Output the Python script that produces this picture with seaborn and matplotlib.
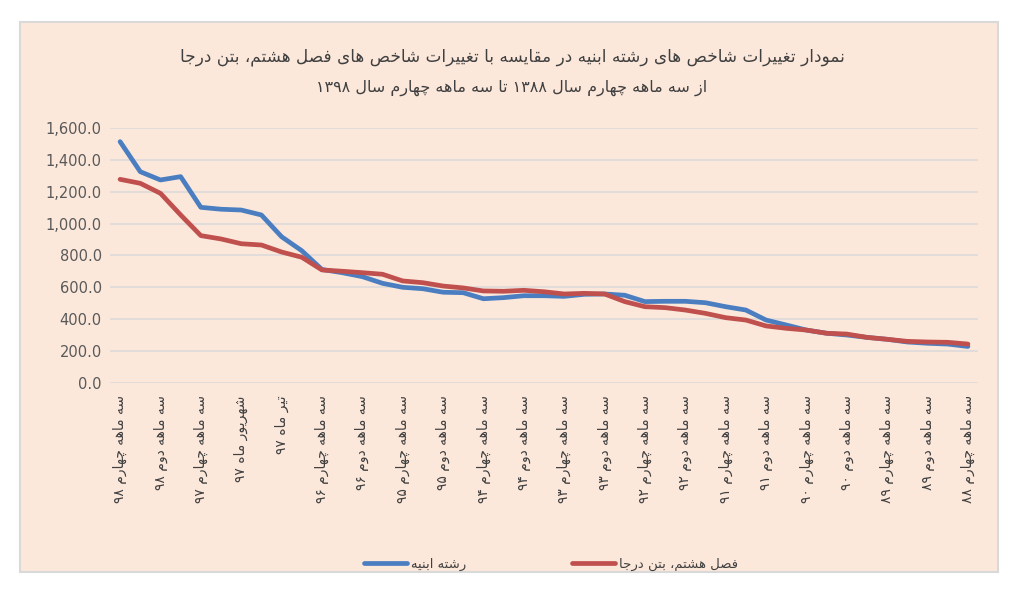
import re
import numpy as np
import pandas as pd
import matplotlib
matplotlib.use("Agg")
import matplotlib.pyplot as plt
from matplotlib.patches import Rectangle
from matplotlib.ticker import FuncFormatter
import seaborn as sns

# ---------------- data ----------------
title_line1 = "نمودار تغییرات شاخص های رشته ابنیه در مقایسه با تغییرات شاخص های فصل هشتم، بتن درجا"
title_line2 = "از سه ماهه چهارم سال ۱۳۸۸ تا سه ماهه چهارم سال ۱۳۹۸"

series_names = ["رشته ابنیه", "فصل هشتم، بتن درجا"]

categories = [
    "سه ماهه چهارم ۹۸", "سه ماهه سوم ۹۸", "سه ماهه دوم ۹۸", "سه ماهه اول ۹۸",
    "سه ماهه چهارم ۹۷", "سه ماهه سوم ۹۷", "شهریور ماه ۹۷", "مرداد ماه ۹۷",
    "تیر ماه ۹۷", "سه ماهه اول ۹۷",
    "سه ماهه چهارم ۹۶", "سه ماهه سوم ۹۶", "سه ماهه دوم ۹۶", "سه ماهه اول ۹۶",
    "سه ماهه چهارم ۹۵", "سه ماهه سوم ۹۵", "سه ماهه دوم ۹۵", "سه ماهه اول ۹۵",
    "سه ماهه چهارم ۹۴", "سه ماهه سوم ۹۴", "سه ماهه دوم ۹۴", "سه ماهه اول ۹۴",
    "سه ماهه چهارم ۹۳", "سه ماهه سوم ۹۳", "سه ماهه دوم ۹۳", "سه ماهه اول ۹۳",
    "سه ماهه چهارم ۹۲", "سه ماهه سوم ۹۲", "سه ماهه دوم ۹۲", "سه ماهه اول ۹۲",
    "سه ماهه چهارم ۹۱", "سه ماهه سوم ۹۱", "سه ماهه دوم ۹۱", "سه ماهه اول ۹۱",
    "سه ماهه چهارم ۹۰", "سه ماهه سوم ۹۰", "سه ماهه دوم ۹۰", "سه ماهه اول ۹۰",
    "سه ماهه چهارم ۸۹", "سه ماهه سوم ۸۹", "سه ماهه دوم ۸۹", "سه ماهه اول ۸۹",
    "سه ماهه چهارم ۸۸",
]

abnieh = [1516, 1327, 1275, 1296, 1103, 1091, 1086, 1055, 918, 830,
          712, 692, 667, 625, 600, 591, 569, 566, 528, 535,
          547, 547, 543, 556, 558, 550, 510, 512, 512, 503,
          478, 457, 394, 363, 331, 311, 300, 285, 273, 256,
          248, 243, 228]

beton = [1279, 1254, 1191, 1055, 925, 904, 874, 866, 822, 789,
         709, 701, 692, 682, 640, 629, 608, 596, 577, 575,
         581, 572, 558, 562, 558, 510, 478, 472, 457, 436,
         409, 394, 357, 342, 331, 311, 306, 285, 273, 260,
         256, 254, 243]

y_ticks = [0, 200, 400, 600, 800, 1000, 1200, 1400, 1600]

# ---------------- minimal Persian shaping (visual order) ----------------
_F = {
    '\u0627': ('\uFE8D', '\uFE8E', None, None),
    '\u0622': ('\uFE81', '\uFE82', None, None),
    '\u0628': ('\uFE8F', '\uFE90', '\uFE91', '\uFE92'),
    '\u067E': ('\uFB56', '\uFB57', '\uFB58', '\uFB59'),
    '\u062A': ('\uFE95', '\uFE96', '\uFE97', '\uFE98'),
    '\u062B': ('\uFE99', '\uFE9A', '\uFE9B', '\uFE9C'),
    '\u062C': ('\uFE9D', '\uFE9E', '\uFE9F', '\uFEA0'),
    '\u0686': ('\uFB7A', '\uFB7B', '\uFB7C', '\uFB7D'),
    '\u062D': ('\uFEA1', '\uFEA2', '\uFEA3', '\uFEA4'),
    '\u062E': ('\uFEA5', '\uFEA6', '\uFEA7', '\uFEA8'),
    '\u062F': ('\uFEA9', '\uFEAA', None, None),
    '\u0630': ('\uFEAB', '\uFEAC', None, None),
    '\u0631': ('\uFEAD', '\uFEAE', None, None),
    '\u0632': ('\uFEAF', '\uFEB0', None, None),
    '\u0698': ('\uFB8A', '\uFB8B', None, None),
    '\u0633': ('\uFEB1', '\uFEB2', '\uFEB3', '\uFEB4'),
    '\u0634': ('\uFEB5', '\uFEB6', '\uFEB7', '\uFEB8'),
    '\u0635': ('\uFEB9', '\uFEBA', '\uFEBB', '\uFEBC'),
    '\u0636': ('\uFEBD', '\uFEBE', '\uFEBF', '\uFEC0'),
    '\u0637': ('\uFEC1', '\uFEC2', '\uFEC3', '\uFEC4'),
    '\u0638': ('\uFEC5', '\uFEC6', '\uFEC7', '\uFEC8'),
    '\u0639': ('\uFEC9', '\uFECA', '\uFECB', '\uFECC'),
    '\u063A': ('\uFECD', '\uFECE', '\uFECF', '\uFED0'),
    '\u0641': ('\uFED1', '\uFED2', '\uFED3', '\uFED4'),
    '\u0642': ('\uFED5', '\uFED6', '\uFED7', '\uFED8'),
    '\u06A9': ('\uFB8E', '\uFB8F', '\uFB90', '\uFB91'),
    '\u06AF': ('\uFB92', '\uFB93', '\uFB94', '\uFB95'),
    '\u0644': ('\uFEDD', '\uFEDE', '\uFEDF', '\uFEE0'),
    '\u0645': ('\uFEE1', '\uFEE2', '\uFEE3', '\uFEE4'),
    '\u0646': ('\uFEE5', '\uFEE6', '\uFEE7', '\uFEE8'),
    '\u0647': ('\uFEE9', '\uFEEA', '\uFEEB', '\uFEEC'),
    '\u0648': ('\uFEED', '\uFEEE', None, None),
    '\u06CC': ('\uFBFC', '\uFBFD', '\uFBFE', '\uFBFF'),
}


def fa(text):
    chars = list(text)
    n = len(chars)
    out = []
    for i, c in enumerate(chars):
        if c not in _F:
            out.append(c)
            continue
        iso, fin, ini, med = _F[c]
        prev = chars[i - 1] if i > 0 else None
        nxt = chars[i + 1] if i < n - 1 else None
        jp = prev in _F and _F[prev][2] is not None
        jn = nxt in _F and ini is not None
        if jp and jn:
            out.append(med)
        elif jp:
            out.append(fin)
        elif jn:
            out.append(ini)
        else:
            out.append(iso)
    shaped = "".join(out)
    tokens = re.findall(r'[0-9\u06F0-\u06F9]+|[^0-9\u06F0-\u06F9]', shaped)
    return "".join(reversed(tokens))


# ---------------- figure ----------------
sns.set_theme(style="white")
plt.rcParams['font.family'] = ['DejaVu Sans']

fig = plt.figure(figsize=(10.24, 5.94), dpi=100, facecolor="white")
fig.patches.append(Rectangle((20 / 1024, 1 - 572 / 594), 978 / 1024, 550 / 594,
                             transform=fig.transFigure, facecolor="#FCE8DB",
                             edgecolor="#D9D9D9", linewidth=1.5, zorder=-10))

ax = fig.add_axes([110 / 1024, 1 - 382.7 / 594, 868 / 1024, 254.4 / 594])
ax.set_facecolor("none")

df = pd.DataFrame({
    "pos": list(range(len(categories))) * 2,
    "value": abnieh + beton,
    "series": [series_names[0]] * len(abnieh) + [series_names[1]] * len(beton),
})
palette = {series_names[0]: "#4A7EC0", series_names[1]: "#C0504D"}
sns.lineplot(data=df, x="pos", y="value", hue="series", palette=palette,
             linewidth=3.4, ax=ax, legend=False, sort=False,
             solid_capstyle="round", solid_joinstyle="round")

ax.set_xlim(-0.5, len(categories) - 0.5)
ax.set_ylim(0, 1600)
ax.set_yticks(y_ticks)
ax.yaxis.set_major_formatter(FuncFormatter(lambda v, p: f"{v:,.1f}"))
ax.grid(axis="y", color="#D9D9D9", linewidth=1.1)
ax.grid(axis="x", visible=False)
for s in ax.spines.values():
    s.set_visible(False)
ax.set_xlabel("")
ax.set_ylabel("")

shown = list(range(0, len(categories), 2))
ax.set_xticks(shown)
ax.set_xticklabels([fa(categories[i]) for i in shown], rotation=90,
                   fontsize=10, color="#404040")
ax.tick_params(axis="x", length=0, pad=9)
ax.tick_params(axis="y", length=0, pad=6, labelsize=10.5, labelcolor="#595959")

fig.text(0.5, 1 - 57 / 594, fa(title_line1), ha="center", va="center",
         fontsize=12.2, color="#404040")
fig.text(0.5, 1 - 88 / 594, fa(title_line2), ha="center", va="center",
         fontsize=11.5, color="#404040")

handles = [plt.Line2D([], [], color=palette[n], linewidth=3.4, solid_capstyle="round")
           for n in series_names]
fig.legend(handles, [fa(n) for n in series_names], loc="center",
           bbox_to_anchor=(0.538, 1 - 564 / 594), ncol=2, frameon=False,
           fontsize=9.5, handlelength=3.3, handletextpad=0.3, columnspacing=8.0,
           labelcolor="#404040")

fig.savefig("out.png", dpi=100, facecolor="white")
